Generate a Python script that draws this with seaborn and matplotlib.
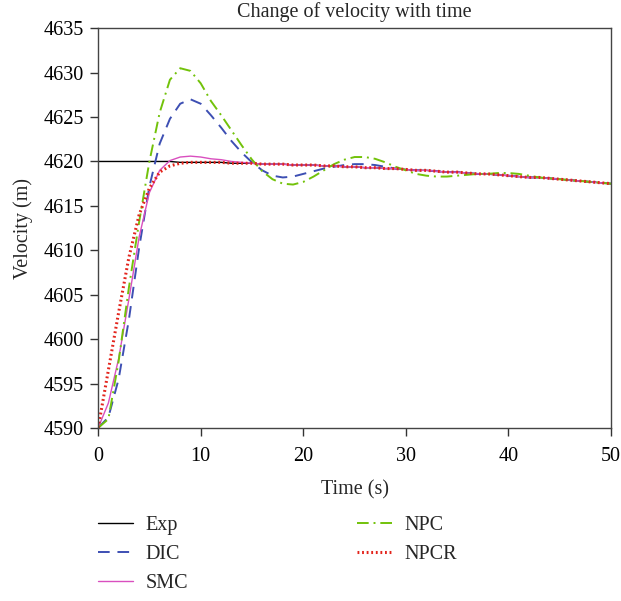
import numpy as np
import pandas as pd
import seaborn as sns
import matplotlib.pyplot as plt

# time axis (s)
t = list(range(0, 51))

exp = [4620.0] * 8 + [4619.9, 4619.9, 4619.9, 4619.9, 4619.9, 4619.8, 4619.8, 4619.8,
                      4619.7, 4619.7, 4619.7, 4619.6, 4619.6, 4619.6, 4619.5, 4619.5,
                      4619.4, 4619.4, 4619.3, 4619.3, 4619.2, 4619.2, 4619.1, 4619.0,
                      4619.0, 4618.9, 4618.8, 4618.8, 4618.7, 4618.6, 4618.6, 4618.5,
                      4618.4, 4618.3, 4618.2, 4618.2, 4618.1, 4618.0, 4617.9, 4617.8,
                      4617.7, 4617.6, 4617.5]

dic = [4590.0, 4591.2, 4595.5, 4602.2, 4610.3, 4617.2, 4622.0, 4624.8, 4626.5, 4627.0,
       4626.5, 4625.2, 4623.8, 4622.3, 4621.0, 4619.9, 4619.0, 4618.4, 4618.2, 4618.3,
       4618.6, 4618.9, 4619.2, 4619.4, 4619.6, 4619.7, 4619.7, 4619.6, 4619.4, 4619.2,
       4619.1, 4619.0, 4619.0, 4618.9, 4618.8, 4618.8, 4618.7, 4618.6, 4618.6, 4618.5,
       4618.4, 4618.3, 4618.2, 4618.2, 4618.1, 4618.0, 4617.9, 4617.8, 4617.7, 4617.6,
       4617.5]

smc = [4590.0, 4592.8, 4597.8, 4604.5, 4611.5, 4616.5, 4619.0, 4620.1, 4620.5, 4620.6,
       4620.5, 4620.3, 4620.2, 4620.0, 4619.9, 4619.8, 4619.7, 4619.7, 4619.7, 4619.6,
       4619.6, 4619.6, 4619.5, 4619.5, 4619.4, 4619.4, 4619.3, 4619.3, 4619.2, 4619.2,
       4619.1, 4619.0, 4619.0, 4618.9, 4618.8, 4618.8, 4618.7, 4618.6, 4618.6, 4618.5,
       4618.4, 4618.3, 4618.2, 4618.2, 4618.1, 4618.0, 4617.9, 4617.8, 4617.7, 4617.6,
       4617.5]

npc = [4590.0, 4591.0, 4597.5, 4605.8, 4613.2, 4620.0, 4625.5, 4629.2, 4630.5, 4630.2,
       4628.8, 4626.8, 4625.2, 4623.5, 4621.8, 4620.2, 4618.9, 4618.0, 4617.5, 4617.4,
       4617.7, 4618.3, 4619.0, 4619.7, 4620.2, 4620.5, 4620.5, 4620.3, 4619.9, 4619.4,
       4619.0, 4618.6, 4618.4, 4618.3, 4618.3, 4618.4, 4618.5, 4618.6, 4618.6, 4618.7,
       4618.7, 4618.6, 4618.4, 4618.2, 4618.1, 4618.0, 4617.9, 4617.8, 4617.7, 4617.6,
       4617.5]

npcr = [4590.0, 4596.5, 4603.0, 4609.2, 4614.0, 4617.0, 4618.8, 4619.5, 4619.8, 4619.9,
        4619.9, 4619.9, 4619.9, 4619.8, 4619.8, 4619.8, 4619.7, 4619.7, 4619.7, 4619.6,
        4619.6, 4619.6, 4619.5, 4619.5, 4619.4, 4619.4, 4619.3, 4619.3, 4619.2, 4619.2,
        4619.1, 4619.0, 4619.0, 4618.9, 4618.8, 4618.8, 4618.7, 4618.6, 4618.6, 4618.5,
        4618.4, 4618.3, 4618.2, 4618.2, 4618.1, 4618.0, 4617.9, 4617.8, 4617.7, 4617.6,
        4617.5]

sns.set_style('ticks')
plt.rcParams['font.family'] = ['Liberation Serif', 'DejaVu Serif']
fs = 14.5
plt.rcParams['font.size'] = fs

fig = plt.figure(figsize=(6.21, 6.01), dpi=100)
ax = fig.add_axes([0.158, 0.288, 0.826, 0.665])

#one call per series so each gets its own line style
sns.lineplot(x=t, y=exp, ax=ax, color='black', lw=1.0, label='Exp')
sns.lineplot(x=t, y=dic, ax=ax, color='#3d4fb3', lw=1.4, label='DIC', linestyle=(0, (6, 4)))
sns.lineplot(x=t, y=smc, ax=ax, color='#d94fbf', lw=1.0, label='SMC')
sns.lineplot(x=t, y=npc, ax=ax, color='#72c20a', lw=1.4, label='NPC', linestyle=(0, (6, 2.5, 1, 2.5)))
sns.lineplot(x=t, y=npcr, ax=ax, color='#e3241c', lw=2.2, label='NPCR', linestyle=(0, (0.6, 0.9)))

ax.set_xlim(0, 50)
ax.set_ylim(4590, 4635)
ax.set_xticks(np.arange(0, 51, 10))
ax.set_yticks(np.arange(4590, 4636, 5))
ax.tick_params(direction='out', length=6, width=1, pad=4, colors='#333333',
               labelcolor='black', labelsize=fs)
ax.tick_params(axis='x', pad=8)
for s in ax.spines.values():
    s.set_color('#444444')
    s.set_linewidth(1.0)

ax.set_title('Change of velocity with time', fontsize=fs, pad=8)
ax.set_xlabel('Time (s)', fontsize=fs, labelpad=10)
ax.set_ylabel('Velocity (m)', fontsize=fs, labelpad=8)

h, l = ax.get_legend_handles_labels()
ax.get_legend().remove()
fig.legend(h, l, ncol=2, loc='upper left', bbox_to_anchor=(0.129, 0.171),
           frameon=False, fontsize=fs, handlelength=1.75, handletextpad=0.6,
           columnspacing=8.4, labelspacing=0.48)

plt.savefig('out.png', dpi=100)
